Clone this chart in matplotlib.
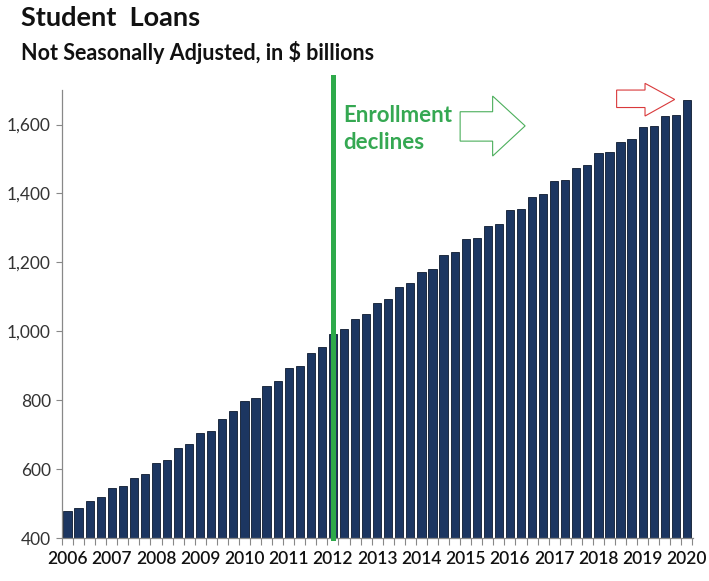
import matplotlib
matplotlib.use("Agg")
import matplotlib.pyplot as plt
from matplotlib.patches import Polygon
from matplotlib.ticker import FuncFormatter
import numpy as np

plt.rcParams['font.family'] = ['Lato', 'DejaVu Sans']

# quarterly student loan balances, 2006 Q1 .. 2020 Q1 ($ billions)
loans = [478, 486, 507, 519, 545, 550, 575, 587, 618, 626,
         660, 672, 706, 710, 744, 769, 799, 807, 842, 855,
         892, 900, 937, 955, 991, 1006, 1036, 1049, 1083, 1095,
         1127, 1140, 1173, 1182, 1221, 1229, 1267, 1272, 1305, 1312,
         1352, 1355, 1389, 1398, 1435, 1440, 1473, 1482, 1516, 1520,
         1550, 1557, 1592, 1596, 1626, 1629, 1671]
years = [str(y) for y in range(2006, 2021)]
enroll_quarter = 24  # 2012 Q1

x = np.arange(len(loans))

fig = plt.figure(figsize=(7.09, 5.81), dpi=100)
ax = fig.add_axes([0.0874, 0.074, 0.890, 0.771])

ax.bar(x, loans, width=0.74, color='#1c3661', edgecolor='#0d1a2e', linewidth=0.6, zorder=2)

ax.set_xlim(-0.45, len(loans) - 0.45)
ax.set_ylim(400, 1700)
ax.set_yticks(np.arange(400, 1601, 200))
ax.yaxis.set_major_formatter(FuncFormatter(lambda v, p: '{:,.0f}'.format(v)))

ax.set_xticks(x[::4])
ax.set_xticklabels(years)
ax.set_xticks(np.arange(len(loans) + 1) - 0.5, minor=True)
ax.tick_params(axis='x', which='major', length=0, pad=9, labelsize=12.5, labelcolor='#111111')
ax.tick_params(axis='x', which='minor', length=5, color='#888888', width=0.8)
ax.tick_params(axis='y', length=4, color='#888888', width=0.8, labelsize=12.5, labelcolor='#333333', pad=4)
for lbl in ax.get_xticklabels():
    lbl.set_fontweight('semibold')

for s in ['top', 'right']:
    ax.spines[s].set_visible(False)
for s in ['left', 'bottom']:
    ax.spines[s].set_color('#888888')
    ax.spines[s].set_linewidth(0.9)

# enrollment marker
ax.axvline(enroll_quarter, ymin=0, ymax=1.029, color='#2eaa4a', linewidth=3.6, clip_on=False, zorder=3)
ax.text(0.4453, 0.944, 'Enrollment', transform=ax.transAxes, color='#35a852',
        fontsize=16, fontweight='bold', ha='left', va='center')
ax.text(0.4453, 0.882, 'declines', transform=ax.transAxes, color='#35a852',
        fontsize=16, fontweight='bold', ha='left', va='center')

green_arrow = Polygon([(0.631, 0.9516), (0.6825, 0.9516), (0.6825, 0.9866), (0.734, 0.920),
                       (0.6825, 0.8527), (0.6825, 0.886), (0.631, 0.886)],
                      closed=True, transform=ax.transAxes, facecolor='white',
                      edgecolor='#4caf5c', linewidth=0.8, clip_on=False, zorder=4)
ax.add_patch(green_arrow)

red_arrow = Polygon([(0.879, 1.0), (0.924, 1.0), (0.924, 1.015), (0.971, 0.979),
                     (0.924, 0.942), (0.924, 0.961), (0.879, 0.961)],
                    closed=True, transform=ax.transAxes, facecolor='white',
                    edgecolor='#d9393b', linewidth=0.8, clip_on=False, zorder=4)
ax.add_patch(red_arrow)

fig.text(0.030, 0.969, 'Student  Loans', fontsize=19.5, fontweight='bold', color='#111111',
         ha='left', va='center')
fig.text(0.030, 0.910, 'Not Seasonally Adjusted, in $ billions', fontsize=15.5,
         fontweight='bold', color='#111111', ha='left', va='center')

fig.savefig('out.png', dpi=100)
